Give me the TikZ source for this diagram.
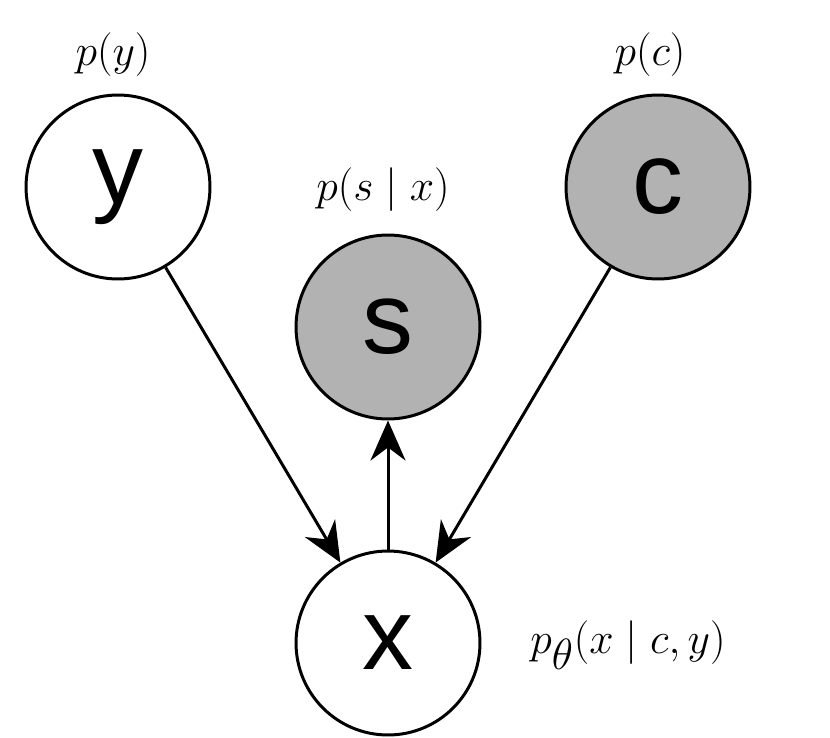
\documentclass[tikz,border=0pt]{standalone}
\usepackage{amsmath}
\usepackage{fontspec}
\newfontfamily\letterfont{Liberation Sans}
\usetikzlibrary{arrows.meta}

\begin{document}
\begin{tikzpicture}[
    x=0.02cm, y=-0.02cm,
    var/.style={circle, draw, line width=1.7pt, minimum size=3.68cm, inner sep=0pt, font=\letterfont\fontsize{58}{70}\selectfont},
    obs/.style={var, fill=black!30},
    lbl/.style={font=\fontsize{36}{44}\selectfont},
    arrow/.style={-{Stealth[length=0.8cm, width=0.7cm]}, line width=1.7pt}
]
\useasboundingbox (0,0) rectangle (830,737);

% Nodes
\node (y) [var] at (118,187) {y};
\node (s) [obs] at (388,327) {s};
\node (c) [obs] at (658,187) {c};
\node (x) [var] at (388,643) {x};

% Labels
\node (py) [lbl] at (113,55) {$p(y)$};
\node (ps) [lbl] at (383,190) {$p(s \mid x)$};
\node (pc) [lbl] at (650,55) {$p(c)$};
\node (px) [lbl] at (628,645) {$p_\theta(x \mid c, y)$};

% Paths
\draw [arrow] (y) -- (x);
\draw [arrow] (c) -- (x);
\draw [arrow] (x) -- (s);

\end{tikzpicture}
\end{document}
